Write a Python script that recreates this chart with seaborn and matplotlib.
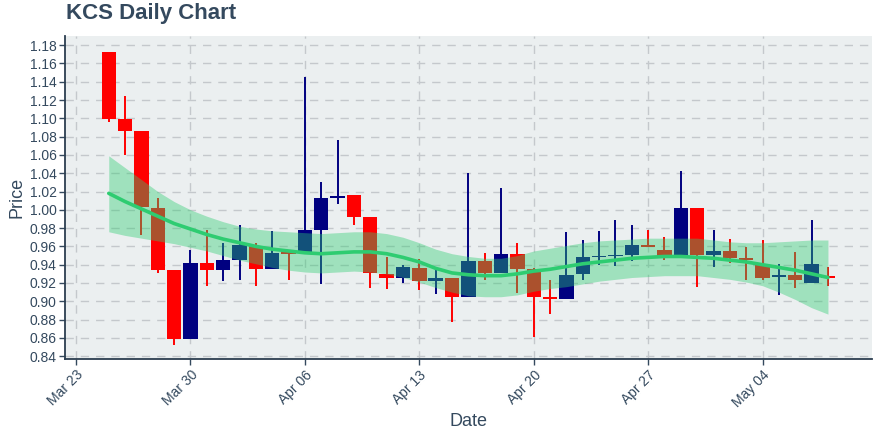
import numpy as np
import pandas as pd
import matplotlib
matplotlib.use("Agg")
import matplotlib.pyplot as plt
import matplotlib.dates as mdates
import seaborn as sns

# ---------------- data ----------------
dates = pd.date_range("2020-03-25", "2020-05-08", freq="D")

open_ = [1.173, 1.099, 1.086, 1.002, 0.934, 0.859, 0.942, 0.934, 0.945, 0.960,
         0.935, 0.954, 0.954, 0.978, 1.013, 1.016, 0.992, 0.930, 0.926, 0.936,
         0.922, 0.926, 0.905, 0.944, 0.931, 0.952, 0.935, 0.905, 0.903, 0.930,
         0.948, 0.949, 0.951, 0.961, 0.956, 0.950, 1.002, 0.951, 0.955, 0.947,
         0.940, 0.927, 0.929, 0.920, 0.928]
high = [1.173, 1.124, 1.086, 1.013, 0.934, 0.956, 0.978, 0.964, 0.983, 0.964,
        0.977, 0.954, 1.145, 1.030, 1.076, 1.016, 0.992, 0.948, 0.940, 0.946,
        0.935, 0.926, 1.040, 0.953, 1.024, 0.964, 0.936, 0.923, 0.976, 0.967,
        0.977, 0.989, 0.983, 0.978, 0.970, 1.042, 1.002, 0.978, 0.968, 0.959,
        0.967, 0.941, 0.954, 0.989, 0.937]
low = [1.096, 1.060, 0.973, 0.931, 0.852, 0.859, 0.917, 0.922, 0.923, 0.917,
       0.935, 0.923, 0.954, 0.919, 1.006, 0.983, 0.914, 0.913, 0.920, 0.912,
       0.908, 0.877, 0.905, 0.923, 0.931, 0.909, 0.861, 0.886, 0.903, 0.923,
       0.940, 0.939, 0.944, 0.959, 0.945, 0.950, 0.916, 0.937, 0.942, 0.923,
       0.923, 0.907, 0.915, 0.920, 0.917]
close = [1.099, 1.086, 1.003, 0.934, 0.859, 0.942, 0.934, 0.945, 0.961, 0.935,
         0.953, 0.952, 0.978, 1.013, 1.015, 0.992, 0.931, 0.926, 0.937, 0.922,
         0.926, 0.905, 0.944, 0.931, 0.952, 0.935, 0.905, 0.903, 0.929, 0.948,
         0.949, 0.950, 0.962, 0.959, 0.950, 1.002, 0.951, 0.955, 0.947, 0.945,
         0.926, 0.929, 0.923, 0.941, 0.925]

trend = [1.018, 1.009, 1.001, 0.993, 0.985, 0.979, 0.973, 0.968, 0.964, 0.960,
         0.957, 0.955, 0.953, 0.952, 0.953, 0.954, 0.954, 0.952, 0.948, 0.943,
         0.936, 0.931, 0.929, 0.928, 0.928, 0.930, 0.933, 0.935, 0.938, 0.941,
         0.943, 0.945, 0.947, 0.948, 0.949, 0.949, 0.948, 0.947, 0.945, 0.943,
         0.940, 0.937, 0.934, 0.930, 0.926]
upper = [1.059, 1.046, 1.033, 1.020, 1.009, 1.000, 0.993, 0.987, 0.982, 0.979,
         0.977, 0.976, 0.975, 0.974, 0.975, 0.976, 0.976, 0.974, 0.970, 0.964,
         0.957, 0.952, 0.949, 0.947, 0.947, 0.950, 0.955, 0.958, 0.961, 0.964,
         0.966, 0.967, 0.968, 0.969, 0.969, 0.969, 0.969, 0.967, 0.965, 0.964,
         0.964, 0.965, 0.966, 0.967, 0.967]
lower = [0.976, 0.972, 0.969, 0.966, 0.963, 0.959, 0.955, 0.950, 0.945, 0.941,
         0.937, 0.934, 0.932, 0.931, 0.932, 0.933, 0.932, 0.930, 0.926, 0.921,
         0.915, 0.910, 0.906, 0.905, 0.905, 0.907, 0.911, 0.914, 0.916, 0.919,
         0.922, 0.924, 0.926, 0.927, 0.928, 0.928, 0.928, 0.926, 0.924, 0.921,
         0.917, 0.910, 0.902, 0.893, 0.886]

yticks = [0.84, 0.86, 0.88, 0.90, 0.92, 0.94, 0.96, 0.98, 1.00, 1.02, 1.04,
          1.06, 1.08, 1.10, 1.12, 1.14, 1.16, 1.18]
xticks = pd.to_datetime(["2020-03-23", "2020-03-30", "2020-04-06", "2020-04-13",
                         "2020-04-20", "2020-04-27", "2020-05-04"])

df = pd.DataFrame({"Date": dates, "Open": open_, "High": high, "Low": low,
                   "Close": close, "Trend": trend, "Upper": upper, "Lower": lower})

# ---------------- style ----------------
sns.set_theme(style="whitegrid")
plt.rcParams["font.family"] = ["Liberation Sans", "DejaVu Sans"]
text_col = "#34495e"
face_col = "#ebeff0"

fig = plt.figure(figsize=(8.8, 4.4), dpi=100)
ax = fig.add_axes([0.074, 0.183, 0.917, 0.735])
ax.set_facecolor(face_col)

x = mdates.date2num(df["Date"])
up_col = "#000080"
dn_col = "#ff0000"
colors = [up_col if c >= o else dn_col for o, c in zip(df["Open"], df["Close"])]

# wicks
ax.vlines(x, df["Low"], df["High"], colors=colors, linewidth=1.4, zorder=2)
# bodies
bottoms = np.minimum(df["Open"], df["Close"])
heights = np.maximum(np.abs(df["Close"] - df["Open"]), 0.0012)
ax.bar(x, heights, bottom=bottoms, width=0.88, color=colors, linewidth=0, zorder=3)

# confidence band over candles
ax.fill_between(x, df["Lower"], df["Upper"], color="#2ecc71", alpha=0.4,
                linewidth=0, zorder=4)
sns.lineplot(data=df, x="Date", y="Trend", color="#2ecc71", linewidth=2.6,
             ax=ax, zorder=5)

# axes
ax.set_xlim(mdates.date2num(pd.Timestamp("2020-03-23")) - 0.67,
            mdates.date2num(pd.Timestamp("2020-03-23")) + 48.7)
ax.set_ylim(0.8364, 1.1899)
ax.set_yticks(yticks)
ax.set_yticklabels([f"{v:.2f}" for v in yticks])
ax.set_xticks(mdates.date2num(xticks))
ax.set_xticklabels([d.strftime("%b %d") for d in xticks], rotation=45,
                   ha="right", rotation_mode="anchor")

ax.grid(True, color="#c4c8cc", linestyle=(0, (6, 5)), linewidth=1.0, zorder=0)
ax.set_axisbelow(True)
for s in ["top", "right"]:
    ax.spines[s].set_visible(False)
for s in ["left", "bottom"]:
    ax.spines[s].set_visible(True)
    ax.spines[s].set_color("#2c3e50")
    ax.spines[s].set_linewidth(1.3)
ax.tick_params(axis="both", colors=text_col, labelsize=10, length=4, width=1,
               direction="out", left=True, bottom=True, pad=2)
ax.tick_params(axis="x", labelcolor=text_col)

ax.set_xlabel("Date", fontsize=13, color=text_col, labelpad=2)
ax.set_ylabel("Price", fontsize=13, color=text_col, labelpad=3)
fig.text(0.075, 0.945, "KCS Daily Chart", fontsize=16, fontweight="bold",
         color=text_col, ha="left", va="bottom")

fig.savefig("out.png", dpi=100, facecolor="white")
